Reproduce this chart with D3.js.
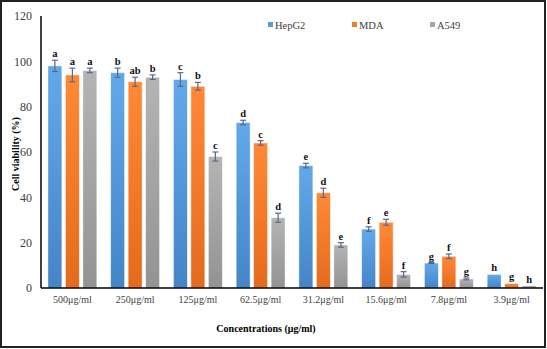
<!DOCTYPE html>
<html>
<head>
<meta charset="utf-8">
<script src="https://cdn.jsdelivr.net/npm/d3@7"></script>
<style>
  body { margin: 0; background: #fff; }
  text { font-family: "Liberation Serif", "Times New Roman", serif; }
</style>
</head>
<body>
<div class="chart"></div>
<script>
// Data
let concentrations = ["500μg/ml", "250μg/ml", "125μg/ml", "62.5μg/ml", "31.2μg/ml", "15.6μg/ml", "7.8μg/ml", "3.9μg/ml"];
let seriesNames = ["HepG2", "MDA", "A549"];
let hepg2 = [98, 95, 92, 73, 54, 26, 11, 6];
let mda = [94, 91, 89, 64, 42, 29, 14, 2];
let a549 = [96, 93, 58, 31, 19, 6, 4, 1];
let hepg2Err = [2.5, 2, 3, 1, 1, 1, 0.2, 0];
let mdaErr = [3, 2, 1.7, 1, 2, 1.3, 1, 0];
let a549Err = [1, 1, 2, 2, 1, 1.2, 0.4, 0];
let hepg2Letters = ["a", "b", "c", "d", "e", "f", "g", "h"];
let mdaLetters = ["a", "ab", "b", "c", "d", "e", "f", "g"];
let a549Letters = ["a", "b", "c", "d", "e", "f", "g", "h"];
let yTicks = [0, 20, 40, 60, 80, 100, 120];

let colors = ["#5b9bd5", "#ed7d31", "#a5a5a5"];
let darkColors = ["#4485c8", "#e56b1c", "#939393"];

let svgWidth = 547;
let svgHeight = 349;
let margin = { top: 16, right: 4, bottom: 61, left: 41 };
let chartWidth = svgWidth - margin.left - margin.right;
let chartHeight = svgHeight - margin.top - margin.bottom;

let svg = d3.select(".chart")
  .append("svg")
  .attr("width", svgWidth)
  .attr("height", svgHeight);

// outer frame
svg.append("rect")
  .attr("x", 1).attr("y", 1)
  .attr("width", svgWidth - 3).attr("height", svgHeight - 3)
  .attr("fill", "none").attr("stroke", "#222").attr("stroke-width", 2);

// gradients
let defs = svg.append("defs");
colors.forEach(function(c, i) {
  let g = defs.append("linearGradient")
    .attr("id", "grad" + i)
    .attr("x1", 0).attr("y1", 0).attr("x2", 0).attr("y2", 1);
  g.append("stop").attr("offset", "0%").attr("stop-color", d3.color(c).brighter(0.25));
  g.append("stop").attr("offset", "100%").attr("stop-color", darkColors[i]);
});

let chart = svg.append("g")
  .attr("transform", `translate(${margin.left}, ${margin.top})`);

let table = concentrations.map(function(c, i) {
  return {
    name: c,
    vals: [
      { s: 0, v: hepg2[i], e: hepg2Err[i], l: hepg2Letters[i] },
      { s: 1, v: mda[i], e: mdaErr[i], l: mdaLetters[i] },
      { s: 2, v: a549[i], e: a549Err[i], l: a549Letters[i] }
    ]
  };
});

// Scales
let x0 = d3.scaleBand()
  .domain(concentrations)
  .range([0, chartWidth])
  .paddingInner(0.22)
  .paddingOuter(0.11);

let x1 = d3.scaleBand()
  .domain([0, 1, 2])
  .range([0, x0.bandwidth()])
  .paddingInner(0.2);

let y = d3.scaleLinear()
  .domain([0, 120])
  .range([chartHeight, 0]);

// y tick labels
chart.selectAll(".ylab")
  .data(yTicks)
  .enter().append("text")
  .attr("class", "ylab")
  .attr("x", -9)
  .attr("y", d => y(d))
  .attr("dy", "0.35em")
  .attr("text-anchor", "end")
  .attr("font-size", 12)
  .attr("fill", "#404040")
  .text(d => d);

// groups
let groups = chart.selectAll(".grp")
  .data(table)
  .enter().append("g")
  .attr("class", "grp")
  .attr("transform", d => `translate(${x0(d.name)},0)`);

groups.selectAll("rect")
  .data(d => d.vals)
  .enter().append("rect")
  .attr("x", d => x1(d.s))
  .attr("y", d => y(d.v))
  .attr("width", x1.bandwidth())
  .attr("height", d => chartHeight - y(d.v))
  .attr("fill", d => `url(#grad${d.s})`)
  .attr("stroke", "#ffffff")
  .attr("stroke-opacity", 0.6)
  .attr("stroke-width", 0.8);

// error bars
let eb = groups.selectAll(".err")
  .data(d => d.vals.filter(v => v.e > 0))
  .enter().append("g")
  .attr("class", "err")
  .attr("stroke", "#56698c")
  .attr("stroke-width", 1.2);

eb.append("line")
  .attr("x1", d => x1(d.s) + x1.bandwidth() / 2)
  .attr("x2", d => x1(d.s) + x1.bandwidth() / 2)
  .attr("y1", d => y(d.v + d.e))
  .attr("y2", d => y(d.v - d.e));
[1, -1].forEach(function(sgn) {
  eb.append("line")
    .attr("x1", d => x1(d.s) + x1.bandwidth() / 2 - 3)
    .attr("x2", d => x1(d.s) + x1.bandwidth() / 2 + 3)
    .attr("y1", d => y(d.v + sgn * d.e))
    .attr("y2", d => y(d.v + sgn * d.e));
});

// significance letters
groups.selectAll(".letter")
  .data(d => d.vals)
  .enter().append("text")
  .attr("class", "letter")
  .attr("x", d => x1(d.s) + x1.bandwidth() / 2)
  .attr("y", d => y(d.v + d.e) - 3)
  .attr("text-anchor", "middle")
  .attr("font-size", 10.5)
  .attr("font-weight", "bold")
  .attr("fill", "#111")
  .text(d => d.l);

// axes lines
chart.append("line")
  .attr("x1", 0).attr("x2", 0)
  .attr("y1", 0).attr("y2", chartHeight)
  .attr("stroke", "#000").attr("stroke-width", 1.5);
chart.append("line")
  .attr("x1", 0).attr("x2", chartWidth)
  .attr("y1", chartHeight).attr("y2", chartHeight)
  .attr("stroke", "#000").attr("stroke-width", 1.5);

// x tick labels
chart.selectAll(".xlab")
  .data(concentrations)
  .enter().append("text")
  .attr("class", "xlab")
  .attr("x", d => x0(d) + x0.bandwidth() / 2)
  .attr("y", chartHeight + 15)
  .attr("text-anchor", "middle")
  .attr("font-size", 10)
  .attr("fill", "#404040")
  .text(d => d);

// axis titles
chart.append("text")
  .attr("transform", "rotate(-90)")
  .attr("x", -(154 - margin.top))
  .attr("y", 15 - margin.left)
  .attr("dy", "0.35em")
  .attr("text-anchor", "middle")
  .attr("font-size", 10)
  .attr("font-weight", "bold")
  .text("Cell viability (%)");

chart.append("text")
  .attr("x", 266 - margin.left)
  .attr("y", 332 - margin.top)
  .attr("text-anchor", "middle")
  .attr("font-size", 10)
  .attr("font-weight", "bold")
  .text("Concentrations (μg/ml)");

// legend
let legendX = [268, 352, 430];
let legend = svg.selectAll(".legend")
  .data(seriesNames)
  .enter().append("g")
  .attr("class", "legend")
  .attr("transform", (d, i) => `translate(${legendX[i]}, 25)`);
legend.append("rect")
  .attr("x", 0).attr("y", -3)
  .attr("width", 5).attr("height", 5)
  .attr("fill", (d, i) => colors[i]);
legend.append("text")
  .attr("x", 7)
  .attr("y", 0)
  .attr("dy", "0.35em")
  .attr("font-size", 10.5)
  .attr("fill", "#404040")
  .text(d => d);
</script>
</body>
</html>
